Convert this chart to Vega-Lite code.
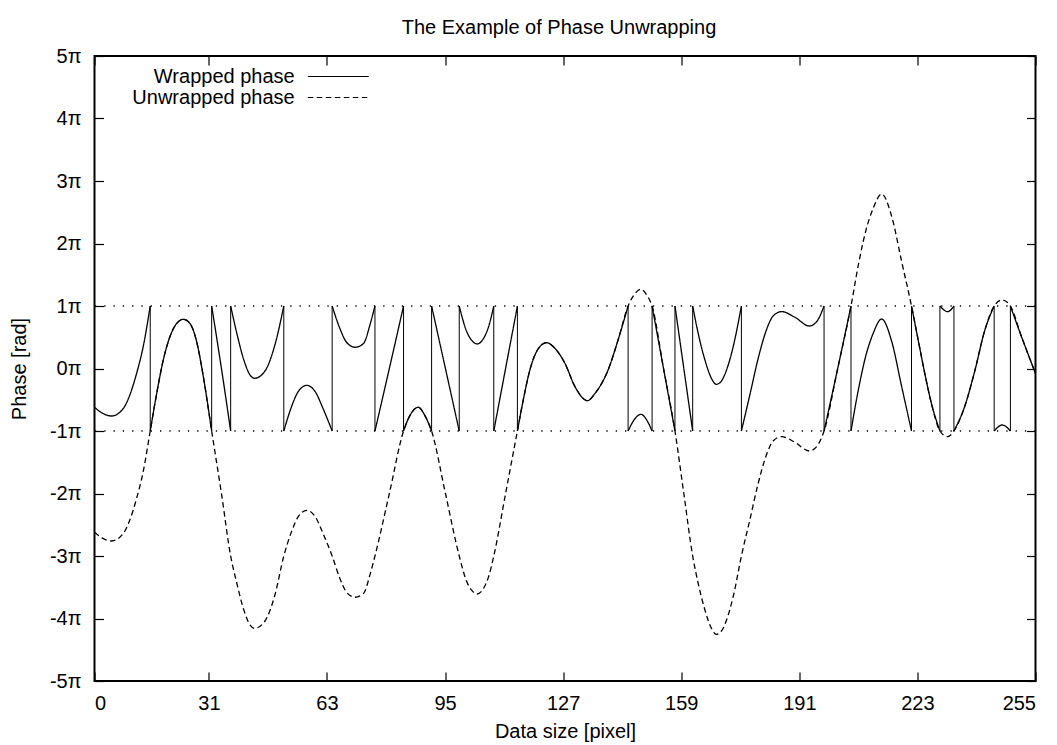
{
  "$schema": "https://vega.github.io/schema/vega-lite/v6.json",
  "width": 941,
  "height": 625,
  "autosize": {"type": "none"},
  "padding": {"left": 94.5, "top": 56, "right": 21.5, "bottom": 64},
  "background": "white",
  "title": {"text": "The Example of Phase Unwrapping", "font": "Liberation Sans", "fontSize": 20, "fontWeight": "normal", "color": "black", "offset": 8, "dx": -6},
  "config": {
    "font": "Liberation Sans",
    "view": {"stroke": "black", "strokeWidth": 2},
    "axis": {"labelFont": "Liberation Sans", "labelFontSize": 20, "labelColor": "black", "titleFont": "Liberation Sans", "titleFontSize": 20, "titleFontWeight": "normal", "titleColor": "black", "tickColor": "black", "tickWidth": 1.2, "tickSize": -9, "domain": false, "grid": false},
    "legend": {"orient": "none", "legendX": 23.5, "legendY": 9.5, "title": null, "labelFont": "Liberation Sans", "labelFontSize": 20, "labelColor": "black", "labelAlign": "right", "labelOffset": -54.6, "labelLimit": 400, "symbolOffset": 209.3, "symbolType": "M-3,0H3", "symbolSize": 413, "symbolStrokeWidth": 1.2, "symbolStrokeColor": "black", "symbolFillColor": "transparent", "rowPadding": 0, "padding": 0}
  },
  "datasets": {
    "levels": [{"level": 1}, {"level": -1}],
    "jumps": [{"x": 15.1}, {"x": 31.75}, {"x": 36.9}, {"x": 51.3}, {"x": 64.4}, {"x": 76.0}, {"x": 83.75}, {"x": 91.35}, {"x": 98.84}, {"x": 108.2}, {"x": 114.6}, {"x": 144.6}, {"x": 151.1}, {"x": 157.3}, {"x": 162.1}, {"x": 175.3}, {"x": 197.7}, {"x": 205.0}, {"x": 221.4}, {"x": 229.1}, {"x": 232.9}, {"x": 243.8}, {"x": 248.2}],
    "unwrapped": [
      {"x": 0, "phase": -2.62, "series": "Unwrapped phase"},
      {"x": 2, "phase": -2.71, "series": "Unwrapped phase"},
      {"x": 4.65, "phase": -2.76, "series": "Unwrapped phase"},
      {"x": 7.8, "phase": -2.64, "series": "Unwrapped phase"},
      {"x": 9.6, "phase": -2.42, "series": "Unwrapped phase"},
      {"x": 11.4, "phase": -2.08, "series": "Unwrapped phase"},
      {"x": 13.2, "phase": -1.65, "series": "Unwrapped phase"},
      {"x": 15.1, "phase": -1.0, "series": "Unwrapped phase"},
      {"x": 16.85, "phase": -0.4, "series": "Unwrapped phase"},
      {"x": 18.65, "phase": 0.14, "series": "Unwrapped phase"},
      {"x": 20.45, "phase": 0.51, "series": "Unwrapped phase"},
      {"x": 22.26, "phase": 0.72, "series": "Unwrapped phase"},
      {"x": 24.07, "phase": 0.787, "series": "Unwrapped phase"},
      {"x": 25.87, "phase": 0.72, "series": "Unwrapped phase"},
      {"x": 27.68, "phase": 0.43, "series": "Unwrapped phase"},
      {"x": 29.49, "phase": -0.13, "series": "Unwrapped phase"},
      {"x": 31.75, "phase": -1.0, "series": "Unwrapped phase"},
      {"x": 34.4, "phase": -2.0, "series": "Unwrapped phase"},
      {"x": 36.9, "phase": -3.0, "series": "Unwrapped phase"},
      {"x": 38.5, "phase": -3.42, "series": "Unwrapped phase"},
      {"x": 40.5, "phase": -3.87, "series": "Unwrapped phase"},
      {"x": 42.1, "phase": -4.1, "series": "Unwrapped phase"},
      {"x": 43.4, "phase": -4.157, "series": "Unwrapped phase"},
      {"x": 46.2, "phase": -4.04, "series": "Unwrapped phase"},
      {"x": 48.9, "phase": -3.62, "series": "Unwrapped phase"},
      {"x": 51.3, "phase": -3.0, "series": "Unwrapped phase"},
      {"x": 53.4, "phase": -2.61, "series": "Unwrapped phase"},
      {"x": 55.2, "phase": -2.37, "series": "Unwrapped phase"},
      {"x": 57.5, "phase": -2.27, "series": "Unwrapped phase"},
      {"x": 59.8, "phase": -2.37, "series": "Unwrapped phase"},
      {"x": 62.0, "phase": -2.65, "series": "Unwrapped phase"},
      {"x": 64.4, "phase": -3.0, "series": "Unwrapped phase"},
      {"x": 66.5, "phase": -3.36, "series": "Unwrapped phase"},
      {"x": 68.3, "phase": -3.58, "series": "Unwrapped phase"},
      {"x": 70.6, "phase": -3.66, "series": "Unwrapped phase"},
      {"x": 72.9, "phase": -3.6, "series": "Unwrapped phase"},
      {"x": 74.7, "phase": -3.29, "series": "Unwrapped phase"},
      {"x": 76.0, "phase": -3.0, "series": "Unwrapped phase"},
      {"x": 79.9, "phase": -2.0, "series": "Unwrapped phase"},
      {"x": 83.75, "phase": -1.0, "series": "Unwrapped phase"},
      {"x": 85.5, "phase": -0.75, "series": "Unwrapped phase"},
      {"x": 87.73, "phase": -0.62, "series": "Unwrapped phase"},
      {"x": 89.5, "phase": -0.75, "series": "Unwrapped phase"},
      {"x": 91.35, "phase": -1.0, "series": "Unwrapped phase"},
      {"x": 95.1, "phase": -2.0, "series": "Unwrapped phase"},
      {"x": 98.84, "phase": -3.0, "series": "Unwrapped phase"},
      {"x": 100.8, "phase": -3.4, "series": "Unwrapped phase"},
      {"x": 102.3, "phase": -3.555, "series": "Unwrapped phase"},
      {"x": 103.7, "phase": -3.608, "series": "Unwrapped phase"},
      {"x": 105.3, "phase": -3.53, "series": "Unwrapped phase"},
      {"x": 106.8, "phase": -3.33, "series": "Unwrapped phase"},
      {"x": 108.2, "phase": -3.0, "series": "Unwrapped phase"},
      {"x": 111.4, "phase": -2.0, "series": "Unwrapped phase"},
      {"x": 114.6, "phase": -1.0, "series": "Unwrapped phase"},
      {"x": 116.2, "phase": -0.5, "series": "Unwrapped phase"},
      {"x": 118.0, "phase": -0.02, "series": "Unwrapped phase"},
      {"x": 120.3, "phase": 0.32, "series": "Unwrapped phase"},
      {"x": 122.5, "phase": 0.413, "series": "Unwrapped phase"},
      {"x": 124.8, "phase": 0.32, "series": "Unwrapped phase"},
      {"x": 127.5, "phase": 0.08, "series": "Unwrapped phase"},
      {"x": 130.2, "phase": -0.29, "series": "Unwrapped phase"},
      {"x": 133.6, "phase": -0.515, "series": "Unwrapped phase"},
      {"x": 135.6, "phase": -0.4, "series": "Unwrapped phase"},
      {"x": 139.2, "phase": -0.02, "series": "Unwrapped phase"},
      {"x": 141.9, "phase": 0.46, "series": "Unwrapped phase"},
      {"x": 144.6, "phase": 1.0, "series": "Unwrapped phase"},
      {"x": 146.5, "phase": 1.2, "series": "Unwrapped phase"},
      {"x": 148.1, "phase": 1.267, "series": "Unwrapped phase"},
      {"x": 149.6, "phase": 1.18, "series": "Unwrapped phase"},
      {"x": 151.1, "phase": 1.0, "series": "Unwrapped phase"},
      {"x": 154.2, "phase": 0.0, "series": "Unwrapped phase"},
      {"x": 157.3, "phase": -1.0, "series": "Unwrapped phase"},
      {"x": 159.7, "phase": -2.0, "series": "Unwrapped phase"},
      {"x": 162.1, "phase": -3.0, "series": "Unwrapped phase"},
      {"x": 163.6, "phase": -3.44, "series": "Unwrapped phase"},
      {"x": 165.4, "phase": -3.86, "series": "Unwrapped phase"},
      {"x": 167.2, "phase": -4.16, "series": "Unwrapped phase"},
      {"x": 168.5, "phase": -4.253, "series": "Unwrapped phase"},
      {"x": 169.9, "phase": -4.2, "series": "Unwrapped phase"},
      {"x": 171.3, "phase": -4.02, "series": "Unwrapped phase"},
      {"x": 173.2, "phase": -3.62, "series": "Unwrapped phase"},
      {"x": 175.3, "phase": -3.0, "series": "Unwrapped phase"},
      {"x": 177.6, "phase": -2.42, "series": "Unwrapped phase"},
      {"x": 179.8, "phase": -1.85, "series": "Unwrapped phase"},
      {"x": 182.1, "phase": -1.38, "series": "Unwrapped phase"},
      {"x": 183.9, "phase": -1.16, "series": "Unwrapped phase"},
      {"x": 186.2, "phase": -1.09, "series": "Unwrapped phase"},
      {"x": 189.8, "phase": -1.18, "series": "Unwrapped phase"},
      {"x": 193.7, "phase": -1.32, "series": "Unwrapped phase"},
      {"x": 195.7, "phase": -1.25, "series": "Unwrapped phase"},
      {"x": 197.7, "phase": -1.0, "series": "Unwrapped phase"},
      {"x": 201.4, "phase": 0.0, "series": "Unwrapped phase"},
      {"x": 205.0, "phase": 1.0, "series": "Unwrapped phase"},
      {"x": 207.0, "phase": 1.66, "series": "Unwrapped phase"},
      {"x": 209.0, "phase": 2.2, "series": "Unwrapped phase"},
      {"x": 211.0, "phase": 2.56, "series": "Unwrapped phase"},
      {"x": 213.3, "phase": 2.792, "series": "Unwrapped phase"},
      {"x": 216.0, "phase": 2.44, "series": "Unwrapped phase"},
      {"x": 218.7, "phase": 1.72, "series": "Unwrapped phase"},
      {"x": 221.4, "phase": 1.0, "series": "Unwrapped phase"},
      {"x": 223.2, "phase": 0.46, "series": "Unwrapped phase"},
      {"x": 225.0, "phase": -0.08, "series": "Unwrapped phase"},
      {"x": 226.8, "phase": -0.56, "series": "Unwrapped phase"},
      {"x": 229.1, "phase": -1.0, "series": "Unwrapped phase"},
      {"x": 231.2, "phase": -1.09, "series": "Unwrapped phase"},
      {"x": 232.9, "phase": -1.0, "series": "Unwrapped phase"},
      {"x": 235.8, "phase": -0.61, "series": "Unwrapped phase"},
      {"x": 238.5, "phase": -0.05, "series": "Unwrapped phase"},
      {"x": 241.2, "phase": 0.6, "series": "Unwrapped phase"},
      {"x": 243.8, "phase": 1.0, "series": "Unwrapped phase"},
      {"x": 246.0, "phase": 1.096, "series": "Unwrapped phase"},
      {"x": 248.2, "phase": 1.0, "series": "Unwrapped phase"},
      {"x": 251.2, "phase": 0.51, "series": "Unwrapped phase"},
      {"x": 255, "phase": -0.08, "series": "Unwrapped phase"}
    ],
    "wrapped": [
      {"x": 0, "phase": -0.62, "seg": 1, "series": "Wrapped phase"},
      {"x": 2, "phase": -0.71, "seg": 1, "series": "Wrapped phase"},
      {"x": 4.65, "phase": -0.76, "seg": 1, "series": "Wrapped phase"},
      {"x": 7.8, "phase": -0.64, "seg": 1, "series": "Wrapped phase"},
      {"x": 9.6, "phase": -0.42, "seg": 1, "series": "Wrapped phase"},
      {"x": 11.4, "phase": -0.08, "seg": 1, "series": "Wrapped phase"},
      {"x": 13.2, "phase": 0.35, "seg": 1, "series": "Wrapped phase"},
      {"x": 15.1, "phase": 1.0, "seg": 1, "series": "Wrapped phase"},
      {"x": 15.1, "phase": -1.0, "seg": 2, "series": "Wrapped phase"},
      {"x": 16.85, "phase": -0.4, "seg": 2, "series": "Wrapped phase"},
      {"x": 18.65, "phase": 0.14, "seg": 2, "series": "Wrapped phase"},
      {"x": 20.45, "phase": 0.51, "seg": 2, "series": "Wrapped phase"},
      {"x": 22.26, "phase": 0.72, "seg": 2, "series": "Wrapped phase"},
      {"x": 24.07, "phase": 0.787, "seg": 2, "series": "Wrapped phase"},
      {"x": 25.87, "phase": 0.72, "seg": 2, "series": "Wrapped phase"},
      {"x": 27.68, "phase": 0.43, "seg": 2, "series": "Wrapped phase"},
      {"x": 29.49, "phase": -0.13, "seg": 2, "series": "Wrapped phase"},
      {"x": 31.75, "phase": -1.0, "seg": 2, "series": "Wrapped phase"},
      {"x": 31.75, "phase": 1.0, "seg": 3, "series": "Wrapped phase"},
      {"x": 34.4, "phase": 0.0, "seg": 3, "series": "Wrapped phase"},
      {"x": 36.9, "phase": -1.0, "seg": 3, "series": "Wrapped phase"},
      {"x": 36.9, "phase": 1.0, "seg": 4, "series": "Wrapped phase"},
      {"x": 38.5, "phase": 0.58, "seg": 4, "series": "Wrapped phase"},
      {"x": 40.5, "phase": 0.13, "seg": 4, "series": "Wrapped phase"},
      {"x": 42.1, "phase": -0.1, "seg": 4, "series": "Wrapped phase"},
      {"x": 43.4, "phase": -0.157, "seg": 4, "series": "Wrapped phase"},
      {"x": 46.2, "phase": -0.04, "seg": 4, "series": "Wrapped phase"},
      {"x": 48.9, "phase": 0.38, "seg": 4, "series": "Wrapped phase"},
      {"x": 51.3, "phase": 1.0, "seg": 4, "series": "Wrapped phase"},
      {"x": 51.3, "phase": -1.0, "seg": 5, "series": "Wrapped phase"},
      {"x": 53.4, "phase": -0.61, "seg": 5, "series": "Wrapped phase"},
      {"x": 55.2, "phase": -0.37, "seg": 5, "series": "Wrapped phase"},
      {"x": 57.5, "phase": -0.27, "seg": 5, "series": "Wrapped phase"},
      {"x": 59.8, "phase": -0.37, "seg": 5, "series": "Wrapped phase"},
      {"x": 62.0, "phase": -0.65, "seg": 5, "series": "Wrapped phase"},
      {"x": 64.4, "phase": -1.0, "seg": 5, "series": "Wrapped phase"},
      {"x": 64.4, "phase": 1.0, "seg": 6, "series": "Wrapped phase"},
      {"x": 66.5, "phase": 0.64, "seg": 6, "series": "Wrapped phase"},
      {"x": 68.3, "phase": 0.42, "seg": 6, "series": "Wrapped phase"},
      {"x": 70.6, "phase": 0.34, "seg": 6, "series": "Wrapped phase"},
      {"x": 72.9, "phase": 0.4, "seg": 6, "series": "Wrapped phase"},
      {"x": 74.7, "phase": 0.71, "seg": 6, "series": "Wrapped phase"},
      {"x": 76.0, "phase": 1.0, "seg": 6, "series": "Wrapped phase"},
      {"x": 76.0, "phase": -1.0, "seg": 7, "series": "Wrapped phase"},
      {"x": 79.9, "phase": 0.0, "seg": 7, "series": "Wrapped phase"},
      {"x": 83.75, "phase": 1.0, "seg": 7, "series": "Wrapped phase"},
      {"x": 83.75, "phase": -1.0, "seg": 8, "series": "Wrapped phase"},
      {"x": 85.5, "phase": -0.75, "seg": 8, "series": "Wrapped phase"},
      {"x": 87.73, "phase": -0.62, "seg": 8, "series": "Wrapped phase"},
      {"x": 89.5, "phase": -0.75, "seg": 8, "series": "Wrapped phase"},
      {"x": 91.35, "phase": -1.0, "seg": 8, "series": "Wrapped phase"},
      {"x": 91.35, "phase": 1.0, "seg": 9, "series": "Wrapped phase"},
      {"x": 95.1, "phase": 0.0, "seg": 9, "series": "Wrapped phase"},
      {"x": 98.84, "phase": -1.0, "seg": 9, "series": "Wrapped phase"},
      {"x": 98.84, "phase": 1.0, "seg": 10, "series": "Wrapped phase"},
      {"x": 100.8, "phase": 0.6, "seg": 10, "series": "Wrapped phase"},
      {"x": 102.3, "phase": 0.445, "seg": 10, "series": "Wrapped phase"},
      {"x": 103.7, "phase": 0.392, "seg": 10, "series": "Wrapped phase"},
      {"x": 105.3, "phase": 0.47, "seg": 10, "series": "Wrapped phase"},
      {"x": 106.8, "phase": 0.67, "seg": 10, "series": "Wrapped phase"},
      {"x": 108.2, "phase": 1.0, "seg": 10, "series": "Wrapped phase"},
      {"x": 108.2, "phase": -1.0, "seg": 11, "series": "Wrapped phase"},
      {"x": 111.4, "phase": 0.0, "seg": 11, "series": "Wrapped phase"},
      {"x": 114.6, "phase": 1.0, "seg": 11, "series": "Wrapped phase"},
      {"x": 114.6, "phase": -1.0, "seg": 12, "series": "Wrapped phase"},
      {"x": 116.2, "phase": -0.5, "seg": 12, "series": "Wrapped phase"},
      {"x": 118.0, "phase": -0.02, "seg": 12, "series": "Wrapped phase"},
      {"x": 120.3, "phase": 0.32, "seg": 12, "series": "Wrapped phase"},
      {"x": 122.5, "phase": 0.413, "seg": 12, "series": "Wrapped phase"},
      {"x": 124.8, "phase": 0.32, "seg": 12, "series": "Wrapped phase"},
      {"x": 127.5, "phase": 0.08, "seg": 12, "series": "Wrapped phase"},
      {"x": 130.2, "phase": -0.29, "seg": 12, "series": "Wrapped phase"},
      {"x": 133.6, "phase": -0.515, "seg": 12, "series": "Wrapped phase"},
      {"x": 135.6, "phase": -0.4, "seg": 12, "series": "Wrapped phase"},
      {"x": 139.2, "phase": -0.02, "seg": 12, "series": "Wrapped phase"},
      {"x": 141.9, "phase": 0.46, "seg": 12, "series": "Wrapped phase"},
      {"x": 144.6, "phase": 1.0, "seg": 12, "series": "Wrapped phase"},
      {"x": 144.6, "phase": -1.0, "seg": 13, "series": "Wrapped phase"},
      {"x": 146.5, "phase": -0.8, "seg": 13, "series": "Wrapped phase"},
      {"x": 148.1, "phase": -0.733, "seg": 13, "series": "Wrapped phase"},
      {"x": 149.6, "phase": -0.82, "seg": 13, "series": "Wrapped phase"},
      {"x": 151.1, "phase": -1.0, "seg": 13, "series": "Wrapped phase"},
      {"x": 151.1, "phase": 1.0, "seg": 14, "series": "Wrapped phase"},
      {"x": 154.2, "phase": 0.0, "seg": 14, "series": "Wrapped phase"},
      {"x": 157.3, "phase": -1.0, "seg": 14, "series": "Wrapped phase"},
      {"x": 157.3, "phase": 1.0, "seg": 15, "series": "Wrapped phase"},
      {"x": 159.7, "phase": 0.0, "seg": 15, "series": "Wrapped phase"},
      {"x": 162.1, "phase": -1.0, "seg": 15, "series": "Wrapped phase"},
      {"x": 162.1, "phase": 1.0, "seg": 16, "series": "Wrapped phase"},
      {"x": 163.6, "phase": 0.56, "seg": 16, "series": "Wrapped phase"},
      {"x": 165.4, "phase": 0.14, "seg": 16, "series": "Wrapped phase"},
      {"x": 167.2, "phase": -0.16, "seg": 16, "series": "Wrapped phase"},
      {"x": 168.5, "phase": -0.253, "seg": 16, "series": "Wrapped phase"},
      {"x": 169.9, "phase": -0.2, "seg": 16, "series": "Wrapped phase"},
      {"x": 171.3, "phase": -0.02, "seg": 16, "series": "Wrapped phase"},
      {"x": 173.2, "phase": 0.38, "seg": 16, "series": "Wrapped phase"},
      {"x": 175.3, "phase": 1.0, "seg": 16, "series": "Wrapped phase"},
      {"x": 175.3, "phase": -1.0, "seg": 17, "series": "Wrapped phase"},
      {"x": 177.6, "phase": -0.42, "seg": 17, "series": "Wrapped phase"},
      {"x": 179.8, "phase": 0.15, "seg": 17, "series": "Wrapped phase"},
      {"x": 182.1, "phase": 0.62, "seg": 17, "series": "Wrapped phase"},
      {"x": 183.9, "phase": 0.84, "seg": 17, "series": "Wrapped phase"},
      {"x": 186.2, "phase": 0.91, "seg": 17, "series": "Wrapped phase"},
      {"x": 189.8, "phase": 0.82, "seg": 17, "series": "Wrapped phase"},
      {"x": 193.7, "phase": 0.68, "seg": 17, "series": "Wrapped phase"},
      {"x": 195.7, "phase": 0.75, "seg": 17, "series": "Wrapped phase"},
      {"x": 197.7, "phase": 1.0, "seg": 17, "series": "Wrapped phase"},
      {"x": 197.7, "phase": -1.0, "seg": 18, "series": "Wrapped phase"},
      {"x": 201.4, "phase": 0.0, "seg": 18, "series": "Wrapped phase"},
      {"x": 205.0, "phase": 1.0, "seg": 18, "series": "Wrapped phase"},
      {"x": 205.0, "phase": -1.0, "seg": 19, "series": "Wrapped phase"},
      {"x": 207.0, "phase": -0.34, "seg": 19, "series": "Wrapped phase"},
      {"x": 209.0, "phase": 0.2, "seg": 19, "series": "Wrapped phase"},
      {"x": 211.0, "phase": 0.56, "seg": 19, "series": "Wrapped phase"},
      {"x": 213.3, "phase": 0.792, "seg": 19, "series": "Wrapped phase"},
      {"x": 216.0, "phase": 0.44, "seg": 19, "series": "Wrapped phase"},
      {"x": 218.7, "phase": -0.28, "seg": 19, "series": "Wrapped phase"},
      {"x": 221.4, "phase": -1.0, "seg": 19, "series": "Wrapped phase"},
      {"x": 221.4, "phase": 1.0, "seg": 20, "series": "Wrapped phase"},
      {"x": 223.2, "phase": 0.46, "seg": 20, "series": "Wrapped phase"},
      {"x": 225.0, "phase": -0.08, "seg": 20, "series": "Wrapped phase"},
      {"x": 226.8, "phase": -0.56, "seg": 20, "series": "Wrapped phase"},
      {"x": 229.1, "phase": -1.0, "seg": 20, "series": "Wrapped phase"},
      {"x": 229.1, "phase": 1.0, "seg": 21, "series": "Wrapped phase"},
      {"x": 231.2, "phase": 0.91, "seg": 21, "series": "Wrapped phase"},
      {"x": 232.9, "phase": 1.0, "seg": 21, "series": "Wrapped phase"},
      {"x": 232.9, "phase": -1.0, "seg": 22, "series": "Wrapped phase"},
      {"x": 235.8, "phase": -0.61, "seg": 22, "series": "Wrapped phase"},
      {"x": 238.5, "phase": -0.05, "seg": 22, "series": "Wrapped phase"},
      {"x": 241.2, "phase": 0.6, "seg": 22, "series": "Wrapped phase"},
      {"x": 243.8, "phase": 1.0, "seg": 22, "series": "Wrapped phase"},
      {"x": 243.8, "phase": -1.0, "seg": 23, "series": "Wrapped phase"},
      {"x": 246.0, "phase": -0.904, "seg": 23, "series": "Wrapped phase"},
      {"x": 248.2, "phase": -1.0, "seg": 23, "series": "Wrapped phase"},
      {"x": 248.2, "phase": 1.0, "seg": 24, "series": "Wrapped phase"},
      {"x": 251.2, "phase": 0.51, "seg": 24, "series": "Wrapped phase"},
      {"x": 255, "phase": -0.08, "seg": 24, "series": "Wrapped phase"}
    ]
  },
  "layer": [
    {
      "data": {"name": "levels"},
      "mark": {"type": "rule", "color": "black", "strokeWidth": 1.3, "strokeDash": [1.3, 8]},
      "encoding": {
        "y": {"field": "level", "type": "quantitative", "axis": null, "scale": {"domain": [-5, 5], "nice": false, "zero": false}}
      }
    },
    {
      "data": {"name": "unwrapped"},
      "mark": {"type": "line", "interpolate": "monotone", "color": "black", "strokeWidth": 1.3},
      "encoding": {
        "x": {"field": "x", "type": "quantitative", "scale": {"domain": [0, 255], "nice": false, "zero": false}, "axis": {"orient": "top", "values": [0, 31, 63, 95, 127, 159, 191, 223, 255], "labels": false, "title": null}},
        "y": {"field": "phase", "type": "quantitative", "axis": {"orient": "right", "values": [-5, -4, -3, -2, -1, 0, 1, 2, 3, 4, 5], "labels": false, "title": null}},
        "strokeDash": {"field": "series", "type": "nominal", "scale": {"domain": ["Wrapped phase", "Unwrapped phase"], "range": [[1, 0], [5.5, 3.5]]}}
      }
    },
    {
      "data": {"name": "wrapped"},
      "mark": {"type": "line", "interpolate": "monotone", "color": "black", "strokeWidth": 1.3},
      "encoding": {
        "x": {"field": "x", "type": "quantitative", "axis": {"orient": "bottom", "values": [0, 31, 63, 95, 127, 159, 191, 223, 255], "labelPadding": 21.5, "title": "Data size [pixel]", "titlePadding": 8}},
        "y": {"field": "phase", "type": "quantitative", "axis": {"orient": "left", "values": [-5, -4, -3, -2, -1, 0, 1, 2, 3, 4, 5], "labelExpr": "datum.value + 'π'", "labelPadding": 22.5, "title": "Phase [rad]", "titlePadding": 20}},
        "detail": {"field": "seg", "type": "nominal"},
        "strokeDash": {"field": "series", "type": "nominal"}
      }
    },
    {
      "data": {"name": "jumps"},
      "mark": {"type": "rule", "color": "black", "strokeWidth": 1},
      "encoding": {
        "x": {"field": "x", "type": "quantitative", "axis": null},
        "y": {"datum": -1, "axis": null},
        "y2": {"datum": 1}
      }
    }
  ]
}
